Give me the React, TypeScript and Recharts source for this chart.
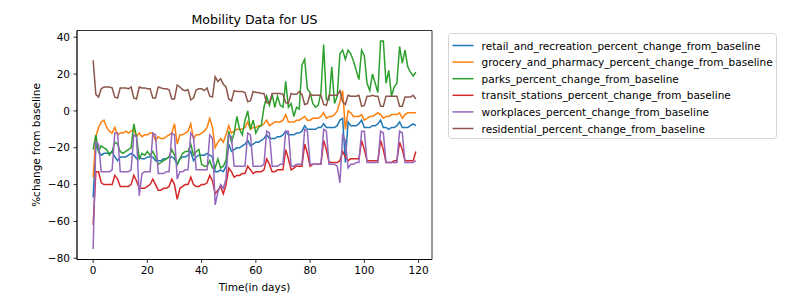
import React from 'react';
import { LineChart, Line, XAxis, YAxis, ReferenceArea } from 'recharts';

// day index 0..119
const DAYS = Array.from({ length: 120 }, (_, i) => i);

const RETAIL = [
  -47, -18, -22, -24, -23, -23, -23, -22, -25, -27,
  -25, -25, -25, -24, -23, -24, -26, -25, -26, -26,
  -25, -25, -25, -27, -27, -27, -26, -26, -25, -25,
  -26, -29, -26, -25, -25, -24, -22, -27, -25, -24,
  -24, -24, -23, -24, -25, -33, -33, -32, -33, -30,
  -18, -22, -21, -20, -20, -19, -18, -16, -19, -18,
  -17, -17, -16, -15, -13, -15, -15, -15, -14, -14,
  -13, -11, -13, -13, -13, -12, -12, -11, -8, -10,
  -10, -10, -10, -9, -9, -7, -9, -9, -9, -9,
  -8, -5, -4, -28, -6, -8, -8, -8, -7, -5,
  -9, -9, -9, -8, -8, -7, -5, -9, -9, -10,
  -9, -9, -8, -6, -9, -9, -9, -8, -7, -8,
];

const GROCERY = [
  -36, -14, -9, -6, -5, -9, -11, -12, -9, -13,
  -12, -12, -11, -12, -11, -10, -14, -12, -14, -13,
  -13, -12, -12, -16, -14, -15, -15, -14, -13, -12,
  -7, -18, -13, -13, -12, -11, -7, -15, -13, -13,
  -12, -11, -9, -4, -9, -20, -17, -15, -17, -13,
  -8, -12, -11, -10, -10, -10, -9, -6, -10, -9,
  -9, -8, -8, -7, -5, -8, -7, -6, -6, -6,
  -5, -2, -6, -6, -6, -5, -5, -4, -3, -5,
  -5, -4, -4, -4, -3, -1, -4, -3, -3, -2,
  0, 5, 11, -10, 0, -1, -3, -3, -3, -2,
  -5, -4, -3, -3, -2, -1, -2, -4, -3, -3,
  -2, -2, -2, -1, -4, -2, -1, -1, -1, -1,
];

const PARKS = [
  -21, -13, -22, -19, -20, -21, -24, -22, -17, -18,
  -22, -23, -22, -21, -20, -7, -14, -26, -23, -24,
  -22, -24, -22, -25, -29, -28, -27, -26, -25, -21,
  -24, -29, -26, -23, -22, -22, -18, -24, -22, -21,
  -29, -30, -30, -27, -31, -31, -26, -31, -30, -27,
  -11, -17, -12, -3, -10, -13, -5, 0, -10, -5,
  -12, -9, -8, 2, 8, 3, 9, 2, 8, 3,
  2, 16, 2, 4, -3, 2, 1, 25, 28, 12,
  10, 4, 2, 3, 10, 36, 6, 6, 24, 4,
  8, 31, 33, 28, 33, 31, 27, 22, 17, 33,
  30, 15, 11, 20, 15, 10, 38, 38, 15, 22,
  8, 13, 15, 35, 26, 33, 24, 21, 19, 21,
];

const TRANSIT = [
  -62, -33, -33, -39, -40, -40, -40, -40, -35, -37,
  -41, -41, -41, -41, -40, -35, -38, -42, -42, -42,
  -41, -40, -37, -40, -43, -43, -42, -42, -41, -37,
  -40, -48, -42, -41, -40, -40, -36, -40, -41, -41,
  -40, -40, -39, -35, -38, -45, -43, -41, -45, -40,
  -31, -33, -36, -35, -35, -34, -34, -30, -32, -34,
  -33, -33, -33, -32, -26, -29, -33, -33, -32, -32,
  -32, -21, -26, -32, -31, -30, -30, -30, -18, -23,
  -30, -29, -29, -29, -29, -16, -21, -28, -28, -28,
  -28, -27, -22, -25, -27, -26, -26, -26, -26, -16,
  -21, -27, -27, -27, -27, -27, -16, -21, -28, -28,
  -28, -27, -27, -17, -21, -27, -27, -27, -27, -22,
];

const WORKPLACES = [
  -75, -17, -18, -33, -33, -33, -33, -32, -12, -12,
  -33, -33, -33, -33, -32, -13, -14, -46, -34, -33,
  -33, -33, -12, -13, -34, -34, -34, -33, -33, -12,
  -13, -37, -33, -33, -32, -32, -12, -14, -32, -32,
  -32, -32, -32, -13, -15, -51, -44, -40, -42, -37,
  -13, -14, -30, -30, -30, -30, -30, -12, -13, -30,
  -30, -30, -30, -29, -11, -12, -30, -30, -30, -29,
  -29, -11, -11, -30, -30, -29, -29, -29, -10, -11,
  -29, -29, -29, -29, -29, -10, -11, -29, -29, -29,
  -30, -39, -13, -16, -31, -29, -29, -28, -28, -11,
  -11, -28, -28, -28, -28, -28, -11, -12, -28, -28,
  -28, -28, -28, -11, -12, -28, -28, -28, -28, -27,
];

const RESIDENTIAL = [
  27.5, 9, 7.5, 12, 13, 13, 13, 12.5, 7.5, 7,
  12.5, 12.5, 12.5, 12, 13, 7, 6.5, 13, 12.5, 12.5,
  12, 12, 7, 7, 13, 12.5, 12, 12, 11.5, 6.5,
  6.5, 14, 13, 11.5, 11, 11.5, 6, 7, 11.5, 12,
  12, 11, 12.5, 8, 7.5, 18.5, 16, 17.5, 14.5, 13,
  6.5, 5.5, 11, 10.5, 10.5, 10.5, 10, 5, 5.5, 10.5,
  10, 10, 9.5, 9.5, 4.5, 4.5, 9.5, 9.5, 9.5, 9.5,
  9, 4.5, 4, 9.5, 9, 9, 10.5, 9, 3.5, 4,
  9, 8.5, 8.5, 8.5, 8.5, 3.5, 3, 8.5, 8.5, 8.5,
  8.5, 11, 5, 3.5, 8.5, 8, 8, 8, 8.5, 2.5,
  3, 8, 8, 8.5, 8, 8, 2.5, 2.5, 8, 8,
  8, 8, 8, 2.5, 2.5, 7.5, 7.5, 7.5, 8.5, 6.5,
];

const SERIES_NAMES = [
  'retail_and_recreation_percent_change_from_baseline',
  'grocery_and_pharmacy_percent_change_from_baseline',
  'parks_percent_change_from_baseline',
  'transit_stations_percent_change_from_baseline',
  'workplaces_percent_change_from_baseline',
  'residential_percent_change_from_baseline',
];
const SERIES_VALUES = [RETAIL, GROCERY, PARKS, TRANSIT, WORKPLACES, RESIDENTIAL];
// matplotlib tab10
const SERIES_COLORS = ['#1f77b4', '#ff7f0e', '#2ca02c', '#d62728', '#9467bd', '#8c564b'];

const X_TICKS = [0, 20, 40, 60, 80, 100, 120];
const Y_TICKS = [-80, -60, -40, -20, 0, 20, 40];
const X_DOMAIN: [number, number] = [-5.95, 124.95];
const Y_DOMAIN: [number, number] = [-80.65, 43.65];

const data = DAYS.map((day, i) => {
  const row: Record<string, number> = { day };
  SERIES_NAMES.forEach((name, s) => {
    row[name] = SERIES_VALUES[s][i];
  });
  return row;
});

const FONT = '"DejaVu Sans", sans-serif';
const AXIS = { stroke: '#000', strokeWidth: 0.8 };
const TICK = { fill: '#000', fontSize: 10.5, fontFamily: FONT };

const fmtTick = (v: number) => (v < 0 ? `\u2212${Math.abs(v)}` : `${v}`);

export default function App() {
  return (
    <div
      style={{
        position: 'absolute',
        left: 0,
        top: 0,
        width: 792,
        height: 301,
        background: '#fff',
        fontFamily: FONT,
      }}
    >
      <LineChart
        width={792}
        height={301}
        data={data}
        margin={{ top: 30.5, right: 360, bottom: 1.5, left: 0 }}
      >
        <XAxis
          dataKey="day"
          type="number"
          domain={X_DOMAIN}
          ticks={X_TICKS}
          interval={0}
          allowDataOverflow
          height={40}
          tickSize={3.5}
          tickMargin={3.5}
          tick={TICK}
          tickLine={AXIS}
          axisLine={AXIS}
          label={{
            value: 'Time(in days)',
            position: 'insideBottom',
            offset: 9,
            fill: '#000',
            fontSize: 10.5,
            fontFamily: FONT,
          }}
        />
        <YAxis
          type="number"
          domain={Y_DOMAIN}
          ticks={Y_TICKS}
          interval={0}
          allowDataOverflow
          width={77}
          tickSize={3.5}
          tickMargin={3.5}
          tick={TICK}
          tickLine={AXIS}
          axisLine={AXIS}
          tickFormatter={fmtTick}
          label={{
            value: '%change from baseline',
            angle: -90,
            position: 'insideLeft',
            offset: 36,
            fill: '#000',
            fontSize: 10.5,
            fontFamily: FONT,
            style: { textAnchor: 'middle' },
          }}
        />
        {SERIES_NAMES.map((name, s) => (
          <Line
            key={name}
            type="linear"
            dataKey={name}
            stroke={SERIES_COLORS[s]}
            strokeWidth={1.5}
            dot={false}
            activeDot={false}
            isAnimationActive={false}
          />
        ))}
        {/* axes frame (matplotlib spines) */}
        <ReferenceArea
          x1={X_DOMAIN[0]}
          x2={X_DOMAIN[1]}
          y1={Y_DOMAIN[0]}
          y2={Y_DOMAIN[1]}
          ifOverflow="visible"
          fill="none"
          stroke="#000"
          strokeWidth={0.8}
        />
      </LineChart>

      <svg
        width={792}
        height={301}
        style={{ position: 'absolute', left: 0, top: 0, pointerEvents: 'none' }}
      >
        <text x={254.5} y={24} textAnchor="middle" fontSize={12.6} fontFamily={FONT} fill="#000">
          Mobility Data for US
        </text>
        <rect
          x={448.5}
          y={33.5}
          width={328}
          height={105}
          rx={3}
          fill="#fff"
          stroke="#d4d4d4"
          strokeWidth={1}
        />
        {SERIES_NAMES.map((name, i) => {
          const cy = 45.5 + i * 16.6;
          return (
            <g key={name}>
              <line x1={452.5} x2={473.5} y1={cy} y2={cy} stroke={SERIES_COLORS[i]} strokeWidth={1.5} />
              <text
                x={481.6}
                y={cy}
                dominantBaseline="central"
                fontSize={10.5}
                fontFamily={FONT}
                fill="#000"
              >
                {name}
              </text>
            </g>
          );
        })}
      </svg>
    </div>
  );
}
